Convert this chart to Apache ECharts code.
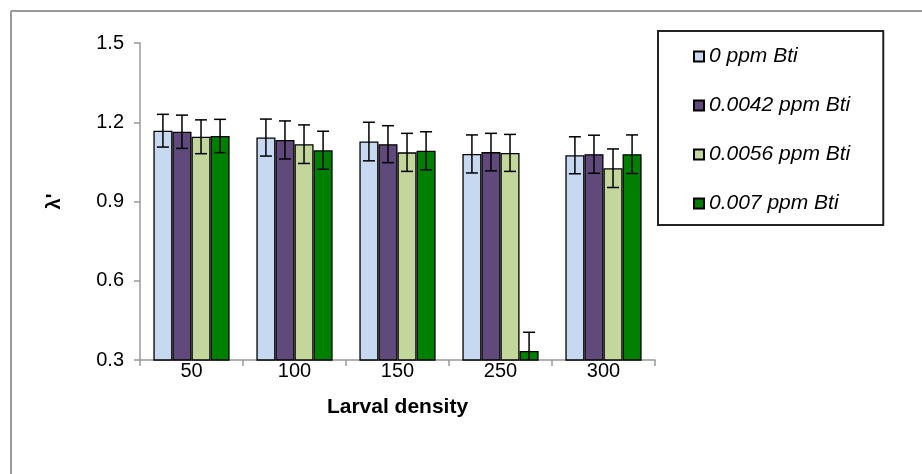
<!DOCTYPE html>
<html>
<head>
<meta charset="utf-8">
<script src="https://cdn.jsdelivr.net/npm/echarts@6/dist/echarts.min.js"></script>
<style>
html,body{margin:0;padding:0;background:#fff;}
#chart{width:922px;height:474px;}
</style>
</head>
<body>
<div id="chart"></div>
<script>
var categories = ['50', '100', '150', '250', '300'];
var seriesNames = ['0 ppm Bti', '0.0042 ppm Bti', '0.0056 ppm Bti', '0.007 ppm Bti'];
var values0    = [1.168, 1.142, 1.127, 1.080, 1.075];
var values0042 = [1.164, 1.133, 1.117, 1.087, 1.079];
var values0056 = [1.145, 1.117, 1.086, 1.084, 1.026];
var values007  = [1.148, 1.094, 1.092, 0.334, 1.079];
var errors0    = [0.062, 0.070, 0.073, 0.072, 0.070];
var errors0042 = [0.063, 0.072, 0.070, 0.071, 0.072];
var errors0056 = [0.064, 0.073, 0.072, 0.070, 0.073];
var errors007  = [0.063, 0.072, 0.072, 0.071, 0.073];
var yTicks = [0.3, 0.6, 0.9, 1.2, 1.5];

var allValues = [values0, values0042, values0056, values007];
var allErrors = [errors0, errors0042, errors0056, errors007];
var colors = ['#C6D9F1', '#604A7B', '#C3D69B', '#008000'];

var chart = echarts.init(document.getElementById('chart'));

var catGapFrac = 0.26;
var barFrac = (1 - catGapFrac) / 4;

var series = [];
seriesNames.forEach(function (name, i) {
  series.push({
    name: name,
    type: 'bar',
    data: allValues[i],
    barGap: '0%',
    barCategoryGap: '26%',
    itemStyle: { color: colors[i], borderColor: '#000', borderWidth: 1.3 },
    emphasis: { disabled: true }
  });
});

var errData = [];
allValues.forEach(function (vals, s) {
  vals.forEach(function (v, c) {
    errData.push([c, v, allErrors[s][c], s]);
  });
});

series.push({
  type: 'custom',
  name: 'err',
  clip: true,
  z: 10,
  data: errData,
  encode: { x: 0, y: 1 },
  renderItem: function (params, api) {
    var c = api.value(0), v = api.value(1), e = api.value(2), s = api.value(3);
    var bandW = api.size([1, 0])[0];
    var bw = bandW * barFrac;
    var center = api.coord([c, v]);
    var x = center[0] + (s - 1.5) * bw;
    var yHi = api.coord([c, v + e])[1];
    var yLo = api.coord([c, v - e])[1];
    var half = 6;
    var st = { stroke: '#000', lineWidth: 1.5 };
    return {
      type: 'group',
      children: [
        { type: 'line', shape: { x1: x, y1: yHi, x2: x, y2: yLo }, style: st },
        { type: 'line', shape: { x1: x - half, y1: yHi, x2: x + half, y2: yHi }, style: st },
        { type: 'line', shape: { x1: x - half, y1: yLo, x2: x + half, y2: yLo }, style: st }
      ]
    };
  }
});

var option = {
  animation: false,
  backgroundColor: '#fff',
  textStyle: { fontFamily: 'Liberation Sans, Arial, sans-serif' },
  grid: { left: 140, right: 267, top: 43, bottom: 114, containLabel: false },
  legend: {
    data: seriesNames,
    orient: 'vertical',
    left: 658,
    top: 31,
    padding: [15, 33, 11, 35],
    itemGap: 28,
    itemWidth: 10,
    itemHeight: 10,
    icon: 'rect',
    borderColor: '#222',
    borderWidth: 2,
    backgroundColor: '#fff',
    textStyle: { fontSize: 21, fontStyle: 'italic', color: '#000', fontFamily: 'Liberation Sans, Arial, sans-serif' }
  },
  xAxis: {
    type: 'category',
    data: categories,
    name: 'Larval density',
    nameLocation: 'middle',
    nameGap: 37,
    nameTextStyle: { fontSize: 21, fontWeight: 'bold', color: '#000' },
    axisLine: { lineStyle: { color: '#999', width: 1.5 } },
    axisTick: { show: true, length: 6, alignWithLabel: false, lineStyle: { color: '#999', width: 1.5 } },
    axisLabel: { fontSize: 20, color: '#000', margin: 1 },
    splitLine: { show: false }
  },
  yAxis: {
    type: 'value',
    min: 0.3,
    max: 1.5,
    interval: 0.3,
    name: "λ'",
    nameLocation: 'middle',
    nameRotate: 90,
    nameGap: 76,
    nameTextStyle: { fontSize: 20, fontWeight: 'bold', color: '#000' },
    axisLine: { show: true, lineStyle: { color: '#999', width: 1.5 } },
    axisTick: { show: true, length: 6, lineStyle: { color: '#999', width: 1.5 } },
    axisLabel: {
      fontSize: 20, color: '#000', margin: 16,
      formatter: function (v) {
        for (var i = 0; i < yTicks.length; i++) {
          if (Math.abs(yTicks[i] - v) < 1e-6) return yTicks[i].toFixed(1);
        }
        return '';
      }
    },
    splitLine: { show: false }
  },
  graphic: [
    { type: 'line', shape: { x1: 11, y1: 11, x2: 922, y2: 11 }, style: { stroke: '#999', lineWidth: 2 } },
    { type: 'line', shape: { x1: 11, y1: 11, x2: 11, y2: 474 }, style: { stroke: '#999', lineWidth: 2 } }
  ],
  series: series
};

chart.setOption(option);
</script>
</body>
</html>
